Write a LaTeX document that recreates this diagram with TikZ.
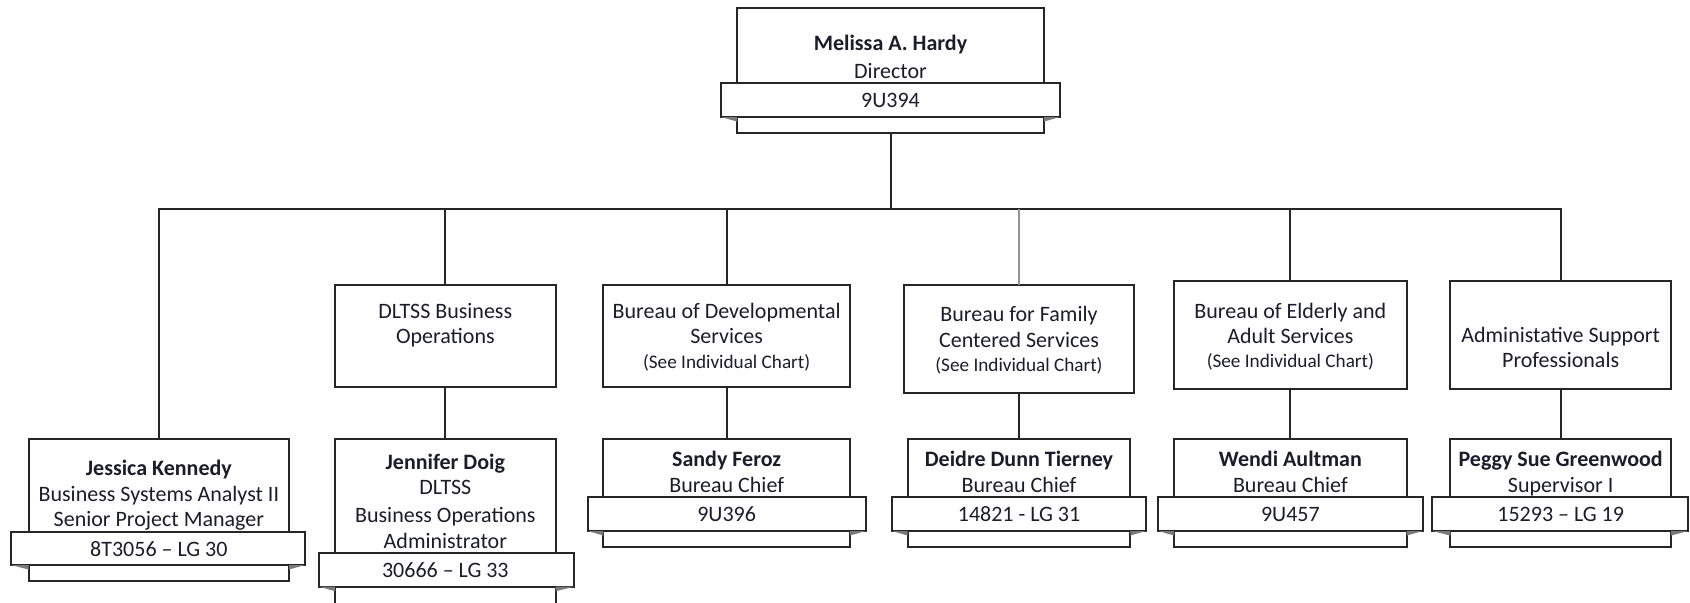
\documentclass[tikz,border=0pt]{standalone}
\usepackage{fontspec}
\setmainfont{Carlito}
\usetikzlibrary{fit}
\definecolor{linec}{HTML}{262626}
\definecolor{txtc}{HTML}{1C1C2C}
\definecolor{foldc}{HTML}{7A7A7A}
\newcommand\foldtri[2]{%
  \fill[foldc] (#1.south west) -- (#1.south west -| #2.west) -- ++(0,4.5) -- cycle;
  \fill[foldc] (#1.south east) -- (#1.south east -| #2.east) -- ++(0,4.5) -- cycle;}
\begin{document}
\begin{tikzpicture}[x=0.5pt,y=-0.5pt,
  box/.style={draw=linec, line width=1pt, fill=white, inner sep=0pt, outer sep=0pt},
  band/.style={box},
  txt/.style={inner sep=0pt, text=txtc, font=\fontsize{11}{13}\selectfont, anchor=base},
  nm/.style={txt, font=\fontsize{11}{13}\selectfont\bfseries},
  sm/.style={txt, font=\fontsize{9.6}{11}\selectfont},
  conn/.style={draw=linec, line width=1pt}]
\useasboundingbox (0,0) rectangle (1690,602);
\fill[white] (0,0) rectangle (1690,602);
\clip (0,0) rectangle (1690,602);
\coordinate (busy) at (0,209);

% ---- boxes
\node[box, fit={(737,8) (1044,133)}] (dir) {};
\node[band, fit={(721,83) (1060,117)}] (dirb) {};
\foldtri{dirb}{dir}

\node[box, fit={(335,285) (555.7,387)}] (dl) {};
\node[box, fit={(603.3,285) (850,386.7)}] (bd) {};
\node[box, fit={(903.7,285) (1134.3,392.7)}] (bf) {};
\node[box, fit={(1174,280.7) (1406.7,389.3)}] (be) {};
\node[box, fit={(1450.3,280.7) (1671,389)}] (as) {};

\node[box, fit={(28.7,438.7) (289,580.7)}] (jk) {};
\node[band, fit={(10.7,532) (305,565)}] (jkb) {};
\foldtri{jkb}{jk}
\node[box, fit={(335,438.7) (555.7,615)}] (jd) {};
\node[band, fit={(319,552.7) (574,586.7)}] (jdb) {};
\foldtri{jdb}{jd}
\node[box, fit={(603.3,438.7) (850,546.7)}] (sf) {};
\node[band, fit={(587.7,496.7) (866,531)}] (sfb) {};
\foldtri{sfb}{sf}
\node[box, fit={(907.7,438.7) (1130.3,546.7)}] (dd) {};
\node[band, fit={(891.7,496.7) (1146,531)}] (ddb) {};
\foldtri{ddb}{dd}
\node[box, fit={(1174,438.7) (1406.7,546.7)}] (wa) {};
\node[band, fit={(1158.3,496.7) (1422.7,531)}] (wab) {};
\foldtri{wab}{wa}
\node[box, fit={(1450.3,438.7) (1671,546.7)}] (pg) {};
\node[band, fit={(1432.3,496.7) (1688.3,531)}] (pgb) {};
\foldtri{pgb}{pg}

% ---- texts
\node[nm] (dir1) at (890.5,50) {Melissa A. Hardy};
\node[txt] (dir2) at (890.5,78) {Director};
\node[txt] (dir3) at (890.5,107) {9U394};

\node[txt] (dl1) at (445.35,318) {DLTSS Business};
\node[txt] (dl2) at (445.35,343.5) {Operations};

\node[txt] (bd1) at (726.65,318) {Bureau of Developmental};
\node[txt] (bd2) at (726.65,343.5) {Services};
\node[sm]  (bd3) at (726.65,368) {(See Individual Chart)};

\node[txt] (bf1) at (1019,321.5) {Bureau for Family};
\node[txt] (bf2) at (1019,347.5) {Centered Services};
\node[sm]  (bf3) at (1019,371.5) {(See Individual Chart)};

\node[txt] (be1) at (1290.35,318) {Bureau of Elderly and};
\node[txt] (be2) at (1290.35,343.5) {Adult Services};
\node[sm]  (be3) at (1290.35,367.5) {(See Individual Chart)};

\node[txt] (as1) at (1560.65,342.5) {Administative Support};
\node[txt] (as2) at (1560.65,367.5) {Professionals};

\node[nm]  (jk1) at (158.85,475) {Jessica Kennedy};
\node[txt] (jk2) at (158.85,501) {Business Systems Analyst II};
\node[txt] (jk3) at (158.85,526) {Senior Project Manager};
\node[txt] (jk4) at (158.85,556) {8T3056 – LG 30};

\node[nm]  (jd1) at (445.35,469) {Jennifer Doig};
\node[txt] (jd2) at (445.35,494) {DLTSS};
\node[txt] (jd3) at (445.35,522.5) {Business Operations};
\node[txt] (jd4) at (445.35,548) {Administrator};
\node[txt] (jd5) at (445.35,577) {30666 – LG 33};

\node[nm]  (sf1) at (726.65,466.5) {Sandy Feroz};
\node[txt] (sf2) at (726.65,492) {Bureau Chief};
\node[txt] (sf3) at (726.65,521) {9U396};

\node[nm]  (dd1) at (1019,466.5) {Deidre Dunn Tierney};
\node[txt] (dd2) at (1019,492) {Bureau Chief};
\node[txt] (dd3) at (1019,521) {14821 - LG 31};

\node[nm]  (wa1) at (1290.35,466.5) {Wendi Aultman};
\node[txt] (wa2) at (1290.35,492) {Bureau Chief};
\node[txt] (wa3) at (1290.35,521) {9U457};

\node[nm]  (pg1) at (1560.65,466.5) {Peggy Sue Greenwood};
\node[txt] (pg2) at (1560.65,492) {Supervisor I};
\node[txt] (pg3) at (1560.65,521) {15293 – LG 19};

% ---- connectors
\draw[conn] (dir.south) -- (dir.south |- busy);
\draw[conn] (jk.north) |- (as.north |- busy) -- (as.north);
\draw[conn] (dl.north) -- (dl.north |- busy);
\draw[conn] (bd.north) -- (bd.north |- busy);
\draw[conn, draw=gray!85] (bf.north) -- (bf.north |- busy);
\draw[conn] (be.north) -- (be.north |- busy);
\draw[conn] (dl.south) -- (jd.north);
\draw[conn] (bd.south) -- (sf.north);
\draw[conn] (bf.south) -- (dd.north);
\draw[conn] (be.south) -- (wa.north);
\draw[conn] (as.south) -- (pg.north);
\end{tikzpicture}
\end{document}
